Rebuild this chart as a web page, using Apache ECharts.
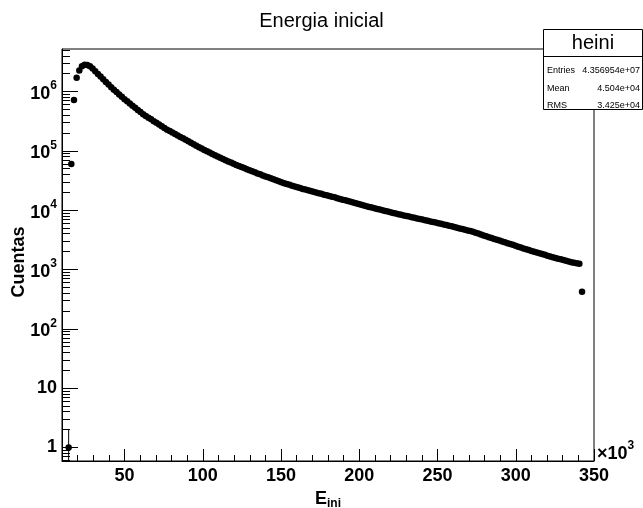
<!DOCTYPE html>
<html><head><meta charset="utf-8">
<script src="https://cdn.jsdelivr.net/npm/echarts@6/dist/echarts.min.js"></script>
<style>html,body{margin:0;padding:0;background:#fff}#c{width:643px;height:508px}</style>
</head><body><div id="c"></div>
<script>
// Histogram "heini": 200 bins from 10 to 350 (x10^3)
const histMin = 10;
const histMax = 350;
const binWidth = 1.7;
const counts = [
  null, null, 1, 60000, 720000, 1700000, 2260000, 2660000, 2810000, 2800000,
  2660000, 2430000, 2190000, 1980000, 1780000, 1600000, 1450000, 1310000, 1180000, 1070000,
  977000, 890000, 814000, 742000, 681000, 626000, 577000, 532000, 488000, 450000,
  415000, 387000, 362000, 339000, 316000, 296000, 277000, 259000, 242000, 227000,
  215000, 203000, 192000, 181000, 171000, 162000, 153000, 145000, 136000, 129000,
  122000, 115000, 109000, 103600, 98100, 93300, 88700, 84000, 79900, 76200,
  72800, 69500, 66300, 63300, 60400, 57900, 55500, 53400, 51200, 49000,
  47000, 45200, 43500, 41600, 40100, 38400, 36900, 35700, 34300, 33000,
  31900, 30700, 29500, 28500, 27600, 26800, 25800, 25100, 24300, 23500,
  22800, 22200, 21600, 21000, 20400, 19900, 19300, 18800, 18200, 17800,
  17300, 16800, 16400, 15900, 15400, 15000, 14600, 14200, 13800, 13400,
  13000, 12700, 12300, 11950, 11630, 11320, 11060, 10770, 10480, 10230,
  9960, 9700, 9470, 9220, 8970, 8770, 8530, 8340, 8150, 7960,
  7780, 7600, 7420, 7250, 7090, 6920, 6760, 6610, 6450, 6300,
  6160, 6020, 5880, 5740, 5610, 5460, 5340, 5190, 5050, 4920,
  4790, 4660, 4550, 4430, 4300, 4150, 4020, 3880, 3750, 3620,
  3500, 3390, 3275, 3175, 3065, 2970, 2870, 2770, 2680, 2595,
  2505, 2420, 2340, 2265, 2195, 2120, 2055, 1995, 1932, 1874,
  1816, 1761, 1707, 1655, 1605, 1562, 1520, 1479, 1439, 1401,
  1363, 1327, 1302, 1272, 1247, 420, null, null, null, null
];
const xLabelValues = [50, 100, 150, 200, 250, 300, 350];
const xMinorTicks = [20, 30, 40, 60, 70, 80, 90, 110, 120, 130, 140, 160, 170, 180, 190,
  210, 220, 230, 240, 260, 270, 280, 290, 310, 320, 330, 340];
const yLabelValues = [1, 10, 100, 1000, 10000, 100000, 1000000];
const yMinorTicks = [0.6, 0.7, 0.8, 0.9, 2, 3, 4, 5, 6, 7, 8, 9,
  20, 30, 40, 50, 60, 70, 80, 90, 200, 300, 400, 500, 600, 700, 800, 900,
  2000, 3000, 4000, 5000, 6000, 7000, 8000, 9000,
  20000, 30000, 40000, 50000, 60000, 70000, 80000, 90000,
  200000, 300000, 400000, 500000, 600000, 700000, 800000, 900000,
  2000000, 3000000, 4000000, 5000000];
const yMin = 0.59, yMax = 5.2e6;
const titleText = 'Energia inicial';
const xTitle = 'E';
const xTitleSub = 'ini';
const yTitle = 'Cuentas';
const statsName = 'heini';
const statsLabels = ['Entries', 'Mean', 'RMS'];
const statsValues = ['4.356954e+07', '4.504e+04', '3.425e+04'];

const FONT = "'Liberation Sans', Arial, Helvetica, sans-serif";
const points = [];
const errSegments = [];
counts.forEach((c, k) => {
  if (c != null) {
    const x = histMin + binWidth * (k + 0.5);
    points.push([x, c]);
    errSegments.push([x, Math.max(c - Math.sqrt(c), yMin)], [x, c + Math.sqrt(c)], '-');
  }
});

const chart = echarts.init(document.getElementById('c'), null, {renderer: 'canvas'});
const axisColor = '#000';

const statsGraphics = [
  {type: 'rect', shape: {x: 543.5, y: 29.5, width: 99, height: 80}, style: {fill: '#fff', stroke: '#000', lineWidth: 1}, z: 100},
  {type: 'line', shape: {x1: 543.5, y1: 56.5, x2: 643, y2: 56.5}, style: {stroke: '#000', lineWidth: 1}, z: 101},
  {type: 'text', x: 593, y: 43, style: {text: statsName, font: '20px ' + FONT, fill: '#000', align: 'center', verticalAlign: 'middle'}, z: 101}
];
statsLabels.forEach((l, i) => {
  const yy = 71 + i * 17.5;
  statsGraphics.push({type: 'text', x: 547, y: yy, style: {text: l, font: '9px ' + FONT, fill: '#000', align: 'left', verticalAlign: 'middle'}, z: 101});
  statsGraphics.push({type: 'text', x: 640, y: yy, style: {text: statsValues[i], font: '9px ' + FONT, fill: '#000', align: 'right', verticalAlign: 'middle'}, z: 101});
});

const option = {
  animation: false,
  backgroundColor: '#fff',
  title: {text: titleText, left: 'center', top: 6, textStyle: {fontFamily: FONT, fontSize: 20, fontWeight: 'normal', color: '#000'}},
  grid: {left: 62, right: 49, top: 49, bottom: 47, show: true, borderColor: '#000', borderWidth: 1, outerBoundsMode: 'none', containLabel: false},
  xAxis: [
    {type: 'value', min: histMin, max: histMax, position: 'bottom',
     axisLine: {show: true, onZero: false, lineStyle: {color: axisColor, width: 1}},
     axisTick: {show: true, inside: true, length: 12, customValues: xLabelValues, lineStyle: {color: axisColor}},
     axisLabel: {customValues: xLabelValues, margin: 6, fontFamily: FONT, fontSize: 18, fontWeight: 'bold', color: '#000', formatter: v => String(v)},
     splitLine: {show: false},
     name: '{b|' + xTitle + '}{s|' + xTitleSub + '}', nameLocation: 'middle', nameGap: 21,
     nameTextStyle: {rich: {
       b: {fontFamily: FONT, fontSize: 18, fontWeight: 'bold', color: '#000', verticalAlign: 'top', lineHeight: 20},
       s: {fontFamily: FONT, fontSize: 12, fontWeight: 'bold', color: '#000', verticalAlign: 'top', padding: [8, 0, 0, 0]}
     }}
    },
    {type: 'value', min: histMin, max: histMax, position: 'bottom',
     axisLine: {show: false, onZero: false},
     axisTick: {show: true, inside: true, length: 6, customValues: xMinorTicks, lineStyle: {color: axisColor}},
     axisLabel: {show: false}, splitLine: {show: false}}
  ],
  yAxis: [
    {type: 'log', logBase: 10, min: yMin, max: yMax, position: 'left',
     axisLine: {show: true, lineStyle: {color: axisColor, width: 1}},
     axisTick: {show: true, inside: true, length: 16, customValues: yLabelValues, lineStyle: {color: axisColor}},
     axisLabel: {customValues: yLabelValues, margin: 5, showMinLabel: true, showMaxLabel: true,
       formatter: v => v >= 100 ? '{b|10}{s|' + Math.round(Math.log10(v)) + '}' : '{n|' + Math.round(v) + '}',
       rich: {
         b: {fontFamily: FONT, fontSize: 18, fontWeight: 'bold', color: '#000', verticalAlign: 'top', padding: [5, 0, 0, 0]},
         s: {fontFamily: FONT, fontSize: 12, fontWeight: 'bold', color: '#000', verticalAlign: 'top'},
         n: {fontFamily: FONT, fontSize: 18, fontWeight: 'bold', color: '#000'}
       }},
     splitLine: {show: false},
     name: yTitle, nameLocation: 'middle', nameGap: 34, nameMoveOverlap: false,
     nameTextStyle: {fontFamily: FONT, fontSize: 18, fontWeight: 'bold', color: '#000', padding: [0, 14, 0, 0]}
    },
    {type: 'log', logBase: 10, min: yMin, max: yMax, position: 'left',
     axisLine: {show: false},
     axisTick: {show: true, inside: true, length: 8, customValues: yMinorTicks, lineStyle: {color: axisColor}},
     axisLabel: {show: false}, splitLine: {show: false}}
  ],
  series: [
    {type: 'line', xAxisIndex: 0, yAxisIndex: 0, data: errSegments, connectNulls: false,
     symbol: 'none', silent: true, z: 2, clip: true,
     lineStyle: {color: '#000', width: 1, opacity: 1}},
    {type: 'scatter', xAxisIndex: 0, yAxisIndex: 0, data: points, symbol: 'circle', symbolSize: 6.5,
     itemStyle: {color: '#000', opacity: 1, borderWidth: 0}, silent: true, z: 3}
  ],
  graphic: [
    {type: 'text', left: 597, top: 440, style: {
      text: '{b|×10}{s|3}',
      rich: {
        b: {font: 'bold 18px ' + FONT, fill: '#000', verticalAlign: 'top', padding: [5, 0, 0, 0]},
        s: {font: 'bold 12px ' + FONT, fill: '#000', verticalAlign: 'top'}
      }}}
  ].concat(statsGraphics)
};
chart.setOption(option);
</script>
</body></html>
